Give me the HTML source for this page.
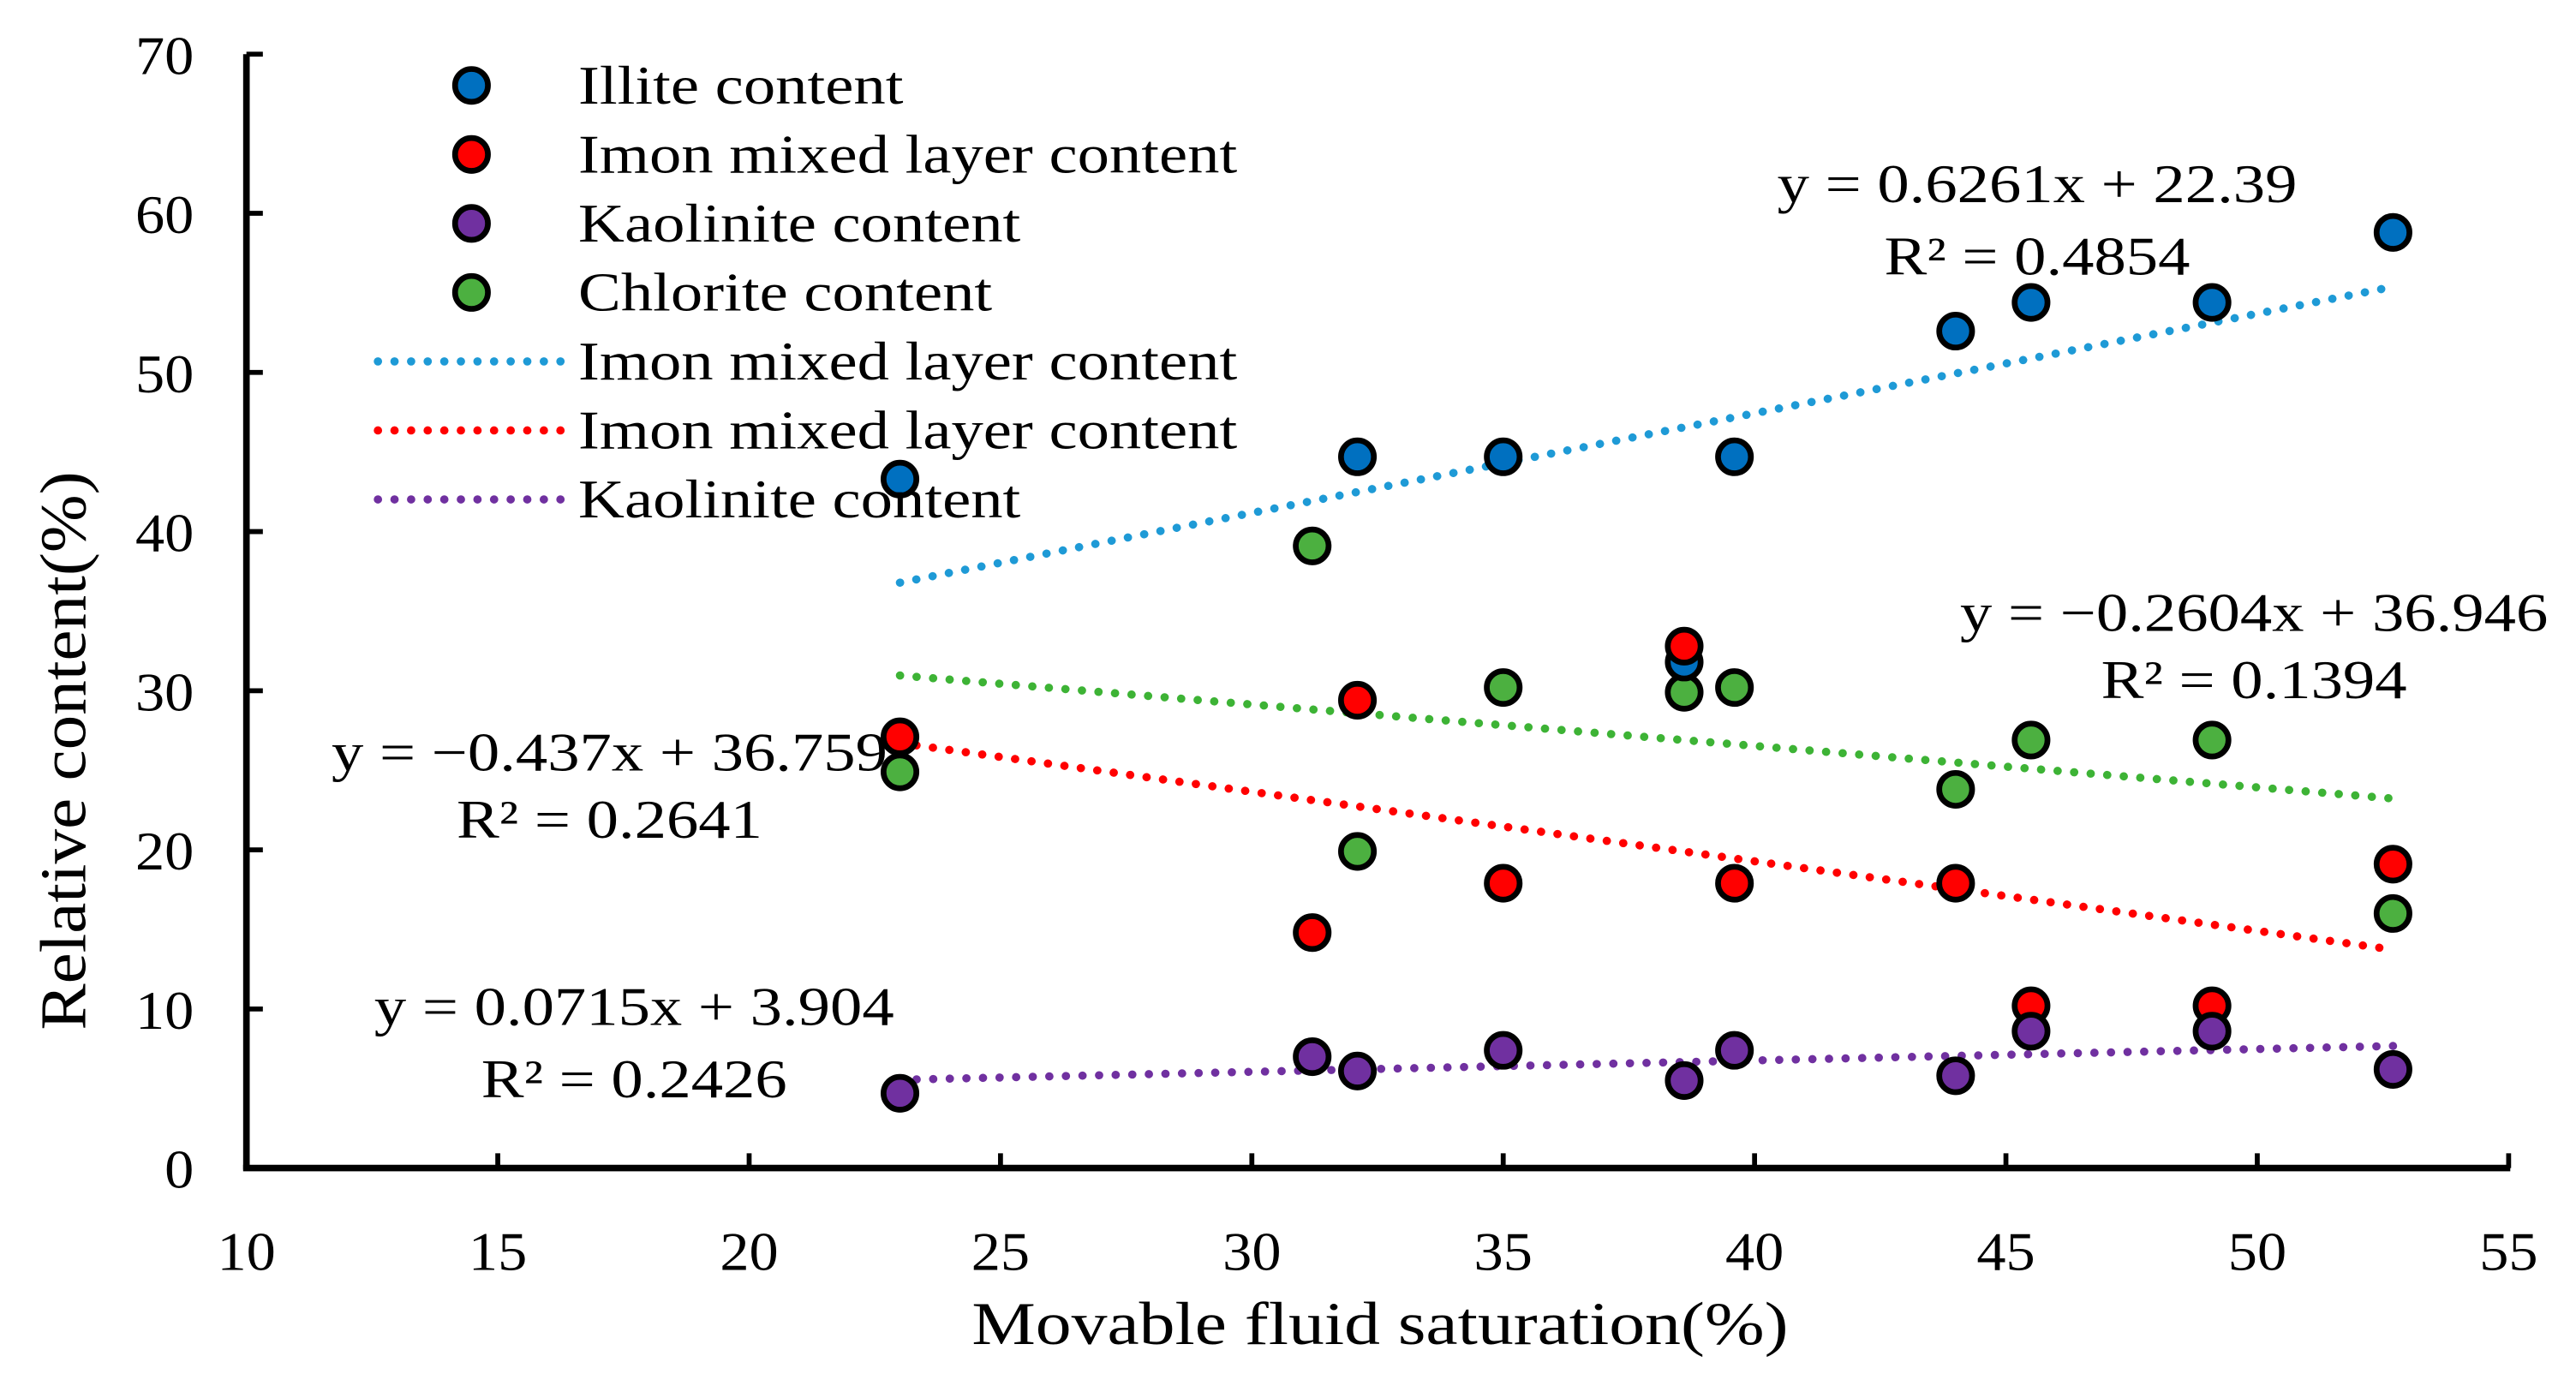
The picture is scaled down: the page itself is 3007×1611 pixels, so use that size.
<!DOCTYPE html>
<html><head><meta charset="utf-8"><style>
html,body{margin:0;padding:0;background:#fff;}
svg{display:block;font-family:"Liberation Serif",serif;}
</style></head><body>
<svg id="chart" width="3007" height="1611" viewBox="0 0 1568 840" preserveAspectRatio="none" xmlns="http://www.w3.org/2000/svg">
<g id="axes"></g>
<g id="trends"></g>
<g id="points"></g>
<g id="legend"></g>
<g id="eqs"></g>
<text transform="translate(840,818) scale(1.18,1)" font-size="37" text-anchor="middle">Movable fluid saturation(%)</text>
<text transform="translate(52,457) rotate(-90) scale(1.06,1)" font-size="40" text-anchor="middle">Relative content(%)</text>
</svg>
<script>
const xVals = [23, 31.2, 32.1, 35, 38.6, 39.6, 44, 45.5, 49.1, 52.7];
const illite = [43.3, null, 44.7, 44.7, 31.8, 44.7, 52.6, 54.4, 54.4, 58.8];
const imon = [27.1, 14.8, 29.4, 17.9, 32.8, 17.9, 17.9, 10.2, 10.2, 19.1];
const kaolinite = [4.7, 7.0, 6.1, 7.4, 5.5, 7.4, 5.8, 8.6, 8.6, 6.2];
const chlorite = [24.9, 39.1, 19.9, 30.2, 29.9, 30.2, 23.8, 26.9, 26.9, 16.0];
const xTicks = [10, 15, 20, 25, 30, 35, 40, 45, 50, 55];
const yTicks = [0, 10, 20, 30, 40, 50, 60, 70];
const trendSlopes = [0.6261, -0.437, 0.0715, -0.2604];
const trendIntercepts = [22.39, 36.759, 3.904, 36.946];
const trendRange = [23, 52.7];

const NS = "http://www.w3.org/2000/svg";
const X = v => 150 + (v - 10) * (1377 / 45);
const Y = v => 711 - v * (678 / 70);
function mk(tag, attrs, parent, txt) {
  const e = document.createElementNS(NS, tag);
  for (const k in attrs) e.setAttribute(k, attrs[k]);
  if (txt !== undefined) e.textContent = txt;
  parent.appendChild(e);
  return e;
}
const SX = 1.18;
const axes = document.getElementById('axes');
let e = mk('line', {x1:150, y1:33, x2:150, y2:712, stroke:'#000', 'stroke-width':4}, axes);


e = mk('line', {x1:148, y1:711, x2:1528, y2:711, stroke:'#000', 'stroke-width':4}, axes);


xTicks.forEach(t => {
  if (t > 10) {
    const tk = mk('line', {x1:X(t), y1:711, x2:X(t), y2:702, stroke:'#000', 'stroke-width':3}, axes);
    
    
  }
  const lb = mk('text', {transform:`translate(${X(t)},773) scale(1.08,1)`, 'font-size':33, 'text-anchor':'middle'}, axes, t);
  
  
});
yTicks.forEach(t => {
  const tk = mk('line', {x1:150, y1:Y(t), x2:160, y2:Y(t), stroke:'#000', 'stroke-width':3}, axes);
  
  
  const lb = mk('text', {transform:`translate(118,${Y(t)+12}) scale(1.08,1)`, 'font-size':33, 'text-anchor':'end'}, axes, t);
  
  
});
const trendColors = ['#1E9AD6', '#FF0000', '#7030A0', '#3DB335'];
const trendNames = ['illite-trendline', 'imon-trendline', 'kaolinite-trendline', 'chlorite-trendline'];
const tg = document.getElementById('trends');
trendSlopes.forEach((m, i) => {
  const b = trendIntercepts[i];
  const l = mk('line', {x1:X(trendRange[0]), y1:Y(m*trendRange[0]+b), x2:X(trendRange[1]), y2:Y(m*trendRange[1]+b), stroke:trendColors[i], 'stroke-width':5, 'stroke-dasharray':'0.1 10', 'stroke-linecap':'round'}, tg);
  
  
});
const series = [illite, imon, kaolinite, chlorite];
const fills = ['#0070C0', '#FF0000', '#7030A0', '#4CB040'];
const sNames = ['illite-point', 'imon-point', 'kaolinite-point', 'chlorite-point'];
const pg = document.getElementById('points');
[3, 0, 1, 2].forEach(si => {
  series[si].forEach((v, j) => {
    if (v === null) return;
    const c = mk('circle', {cx:X(xVals[j]), cy:Y(v), r:10, fill:fills[si], stroke:'#000', 'stroke-width':3.5}, pg);
    
    
  });
});
const lg = document.getElementById('legend');
const legendLabels = ['Illite content', 'Imon mixed layer content', 'Kaolinite content', 'Chlorite content', 'Imon mixed layer content', 'Imon mixed layer content', 'Kaolinite content'];
legendLabels.forEach((t, i) => {
  const y = 52 + i * 42;
  if (i < 4) {
    const c = mk('circle', {cx:287, cy:y, r:10, fill:fills[i], stroke:'#000', 'stroke-width':3.5}, lg);
    
    
  } else {
    const l = mk('line', {x1:230, y1:y, x2:344, y2:y, stroke:trendColors[i-4], 'stroke-width':5, 'stroke-dasharray':'0.1 10', 'stroke-linecap':'round'}, lg);
    
    
  }
  const tx = mk('text', {transform:`translate(352,${y+11}) scale(${SX},1)`, 'font-size':33}, lg, t);
  
  
});
const eg = document.getElementById('eqs');
const eqs = [
  ['y = 0.6261x + 22.39', 1240, 123], ['R² = 0.4854', 1240, 167],
  ['y = −0.2604x + 36.946', 1372, 384], ['R² = 0.1394', 1372, 425],
  ['y = −0.437x + 36.759', 371, 469], ['R² = 0.2641', 371, 510],
  ['y = 0.0715x + 3.904', 386, 624], ['R² = 0.2426', 386, 668]
];
eqs.forEach(q => {
  const t = mk('text', {transform:`translate(${q[1]},${q[2]}) scale(${SX},1)`, 'font-size':33, 'text-anchor':'middle'}, eg, q[0]);
  
  
});
</script>
</body></html>
